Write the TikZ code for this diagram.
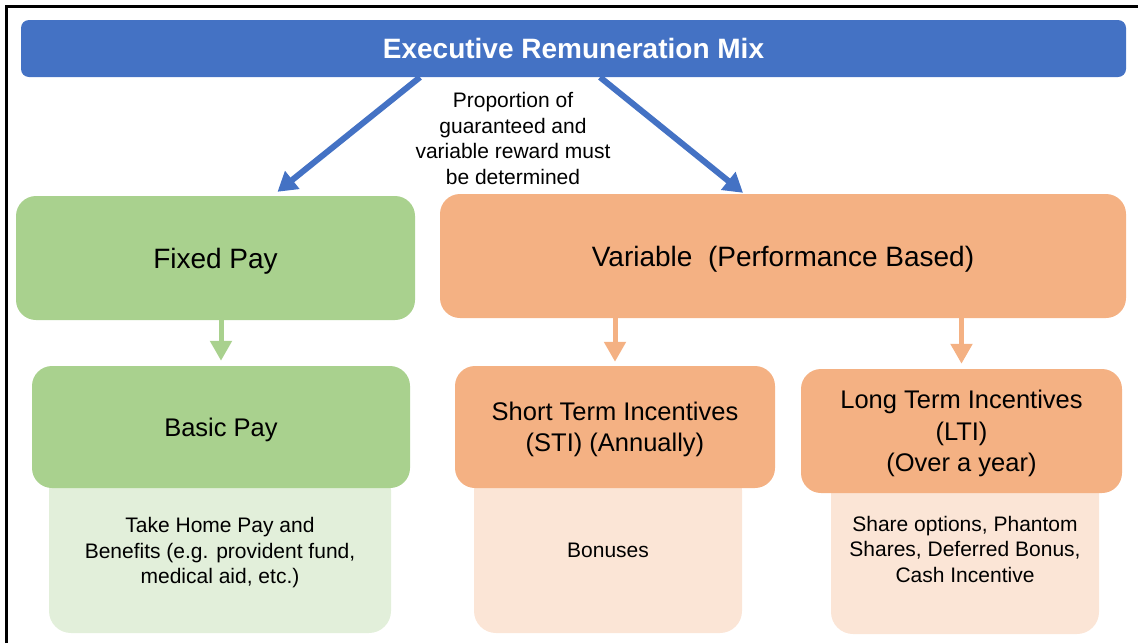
\documentclass[tikz,border=0pt]{standalone}
\usepackage{fontspec}
\setmainfont{Liberation Sans}
\usetikzlibrary{positioning,arrows.meta}
\definecolor{remblue}{HTML}{4472C4}
\definecolor{fixgreen}{HTML}{A9D18E}
\definecolor{fixlight}{HTML}{E2EFDA}
\definecolor{varorange}{HTML}{F4B183}
\definecolor{varlight}{HTML}{FBE5D6}
\tikzset{
    headbox/.style={fill=remblue, rounded corners=8pt, inner sep=0pt,
        minimum width=1105pt, minimum height=57pt, text=white,
        font=\fontsize{28}{34}\selectfont\bfseries},
    mainbox/.style={rounded corners=20pt, inner sep=0pt, align=center, text depth=-1pt,
        minimum height=124pt, font=\fontsize{28}{34}\selectfont},
    partbox/.style={rounded corners=20pt, inner sep=0pt, align=center, text depth=-1pt,
        minimum height=122pt, font=\fontsize{25.5}{31.5}\selectfont},
    detailbox/.style={rounded corners=22pt, inner sep=0pt, align=center, text depth=0pt,
        minimum height=165pt, font=\fontsize{21}{25.5}\selectfont},
    splitarrow/.style={remblue, line width=6pt,
        -{Triangle[length=19pt,width=22pt]}},
    downarrow/.style={line width=5pt, -{Triangle[length=20pt,width=21pt]}}
}

\begin{document}
\begin{tikzpicture}[x=1pt, y=-1pt]
\useasboundingbox (0,0) rectangle (1138,643);
\draw[line width=2.5pt] (6.5,643) -- (6.5,6.5) -- (1138,6.5);

% light detail boxes sit behind the boxes above them
\node[detailbox, fill=fixlight, minimum width=342pt] (basicsub) at (220,550.5)
    {Take Home Pay and\\Benefits (e.g. provident fund,\\medical aid, etc.)};
\node[detailbox, fill=varlight, minimum width=268pt] (stisub) at (608,550.5) {Bonuses};
\node[detailbox, fill=varlight, minimum width=268pt, minimum height=170pt] (ltisub) at (965,549)
    {Share options, Phantom\\Shares, Deferred Bonus,\\Cash Incentive};

\node[headbox] (mix) at (573.5,48.5) {Executive Remuneration Mix};
\node[align=center, font=\fontsize{21}{25.5}\selectfont] (ratio) at (513,138.5)
    {Proportion of\\guaranteed and\\variable reward must\\be determined};

\node[mainbox, fill=fixgreen, minimum width=399pt] (fixed) at (215.5,258) {Fixed Pay};
\node[mainbox, fill=varorange, minimum width=686pt] (variable) at (783,256)
    {Variable\ \ (Performance Based)};

\node[partbox, fill=fixgreen, minimum width=378pt] (basic) at (221,427) {Basic Pay};
\node[partbox, fill=varorange, minimum width=320pt] (sti) at (615,427)
    {Short Term Incentives\\(STI) (Annually)};
\node[partbox, fill=varorange, minimum width=321pt, minimum height=124pt] (lti) at (961.5,431)
    {Long Term Incentives\\(LTI)\\(Over a year)};

\draw[splitarrow] ([xshift=-153.5pt]mix.south) -- ([xshift=62pt,yshift=4pt]fixed.north);
\draw[splitarrow] ([xshift=26.5pt]mix.south) -- ([xshift=-40pt,yshift=1pt]variable.north);

\draw[downarrow, fixgreen] (fixed.south -| basic) -- ([yshift=5pt]basic.north);
\draw[downarrow, varorange] (variable.south -| sti) -- ([yshift=4pt]sti.north);
\draw[downarrow, varorange] (variable.south -| lti) -- ([yshift=5pt]lti.north);
\end{tikzpicture}
\end{document}
